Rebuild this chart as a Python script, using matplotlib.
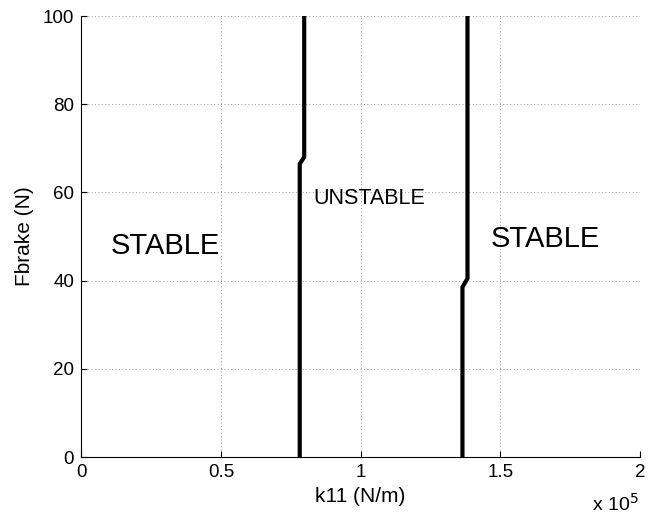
import matplotlib.pyplot as plt
from matplotlib.ticker import FuncFormatter

plt.rcParams['font.family'] = ['Liberation Sans', 'DejaVu Sans']

# Stability boundary curves (k11 in N/m, Fbrake in N)
left_k11 = [0.782e5, 0.782e5, 0.798e5, 0.798e5]
left_fbrake = [0, 66.5, 68.0, 100]
right_k11 = [1.364e5, 1.364e5, 1.382e5, 1.382e5]
right_fbrake = [0, 38.5, 40.5, 100]

x_ticks = [0, 0.5e5, 1e5, 1.5e5, 2e5]
y_ticks = [0, 20, 40, 60, 80, 100]

fig = plt.figure(figsize=(6.54, 5.17), dpi=100)
ax = fig.add_axes([0.124, 0.116, 0.855, 0.853])

ax.plot(left_k11, left_fbrake, color='black', linewidth=3, solid_joinstyle='miter')
ax.plot(right_k11, right_fbrake, color='black', linewidth=3, solid_joinstyle='miter')

ax.text(0.30e5, 47.8, 'STABLE', fontsize=21, ha='center', va='center')
ax.text(1.032e5, 58.7, 'UNSTABLE', fontsize=15.5, ha='center', va='center')
ax.text(1.66e5, 49.4, 'STABLE', fontsize=21, ha='center', va='center')

ax.set_xlim(0, 2e5)
ax.set_ylim(0, 100)
ax.set_xticks(x_ticks)
ax.set_yticks(y_ticks)
ax.xaxis.set_major_formatter(FuncFormatter(lambda v, p: '%g' % (v / 1e5)))
ax.tick_params(direction='in', labelsize=13.5, length=4, width=0.8, pad=5)
ax.grid(True, linestyle=(0, (1, 2.5)), color='#999999', linewidth=0.7)

ax.spines['top'].set_visible(False)
ax.spines['right'].set_visible(False)

ax.set_xlabel('k11 (N/m)', fontsize=15, labelpad=4)
ax.set_ylabel('Fbrake (N)', fontsize=15, labelpad=6)
fig.text(0.905, 0.012, r'x 10$^{5}$', fontsize=14, ha='left', va='baseline')

fig.savefig('out.png', dpi=100)
